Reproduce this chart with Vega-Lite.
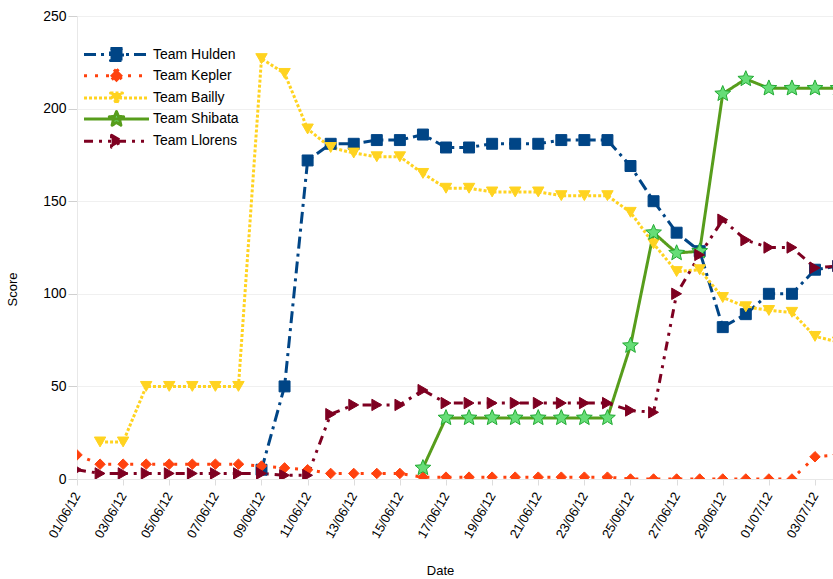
{
  "$schema": "https://vega.github.io/schema/vega-lite/v6.json",
  "width": 756,
  "height": 463,
  "autosize": "none",
  "padding": {"left": 77, "top": 16, "right": 0, "bottom": 100},
  "background": "white",
  "config": {"font": "Liberation Sans", "view": {"stroke": null}},
  "data": {"values": [
    {"team":"Team Hulden","date":"2012-06-09","score":5},
    {"team":"Team Hulden","date":"2012-06-10","score":50},
    {"team":"Team Hulden","date":"2012-06-11","score":172},
    {"team":"Team Hulden","date":"2012-06-12","score":181},
    {"team":"Team Hulden","date":"2012-06-13","score":181},
    {"team":"Team Hulden","date":"2012-06-14","score":183},
    {"team":"Team Hulden","date":"2012-06-15","score":183},
    {"team":"Team Hulden","date":"2012-06-16","score":186},
    {"team":"Team Hulden","date":"2012-06-17","score":179},
    {"team":"Team Hulden","date":"2012-06-18","score":179},
    {"team":"Team Hulden","date":"2012-06-19","score":181},
    {"team":"Team Hulden","date":"2012-06-20","score":181},
    {"team":"Team Hulden","date":"2012-06-21","score":181},
    {"team":"Team Hulden","date":"2012-06-22","score":183},
    {"team":"Team Hulden","date":"2012-06-23","score":183},
    {"team":"Team Hulden","date":"2012-06-24","score":183},
    {"team":"Team Hulden","date":"2012-06-25","score":169},
    {"team":"Team Hulden","date":"2012-06-26","score":150},
    {"team":"Team Hulden","date":"2012-06-27","score":133},
    {"team":"Team Hulden","date":"2012-06-28","score":123},
    {"team":"Team Hulden","date":"2012-06-29","score":82},
    {"team":"Team Hulden","date":"2012-06-30","score":89},
    {"team":"Team Hulden","date":"2012-07-01","score":100},
    {"team":"Team Hulden","date":"2012-07-02","score":100},
    {"team":"Team Hulden","date":"2012-07-03","score":113},
    {"team":"Team Hulden","date":"2012-07-04","score":115},
    {"team":"Team Kepler","date":"2012-06-01","score":13},
    {"team":"Team Kepler","date":"2012-06-02","score":8},
    {"team":"Team Kepler","date":"2012-06-03","score":8},
    {"team":"Team Kepler","date":"2012-06-04","score":8},
    {"team":"Team Kepler","date":"2012-06-05","score":8},
    {"team":"Team Kepler","date":"2012-06-06","score":8},
    {"team":"Team Kepler","date":"2012-06-07","score":8},
    {"team":"Team Kepler","date":"2012-06-08","score":8},
    {"team":"Team Kepler","date":"2012-06-09","score":7},
    {"team":"Team Kepler","date":"2012-06-10","score":6},
    {"team":"Team Kepler","date":"2012-06-11","score":5},
    {"team":"Team Kepler","date":"2012-06-12","score":3},
    {"team":"Team Kepler","date":"2012-06-13","score":3},
    {"team":"Team Kepler","date":"2012-06-14","score":3},
    {"team":"Team Kepler","date":"2012-06-15","score":3},
    {"team":"Team Kepler","date":"2012-06-16","score":1},
    {"team":"Team Kepler","date":"2012-06-17","score":1},
    {"team":"Team Kepler","date":"2012-06-18","score":1},
    {"team":"Team Kepler","date":"2012-06-19","score":1},
    {"team":"Team Kepler","date":"2012-06-20","score":1},
    {"team":"Team Kepler","date":"2012-06-21","score":1},
    {"team":"Team Kepler","date":"2012-06-22","score":1},
    {"team":"Team Kepler","date":"2012-06-23","score":1},
    {"team":"Team Kepler","date":"2012-06-24","score":1},
    {"team":"Team Kepler","date":"2012-06-25","score":0},
    {"team":"Team Kepler","date":"2012-06-26","score":0},
    {"team":"Team Kepler","date":"2012-06-27","score":0},
    {"team":"Team Kepler","date":"2012-06-28","score":0},
    {"team":"Team Kepler","date":"2012-06-29","score":0},
    {"team":"Team Kepler","date":"2012-06-30","score":0},
    {"team":"Team Kepler","date":"2012-07-01","score":0},
    {"team":"Team Kepler","date":"2012-07-02","score":0},
    {"team":"Team Kepler","date":"2012-07-03","score":12},
    {"team":"Team Kepler","date":"2012-07-04","score":13},
    {"team":"Team Bailly","date":"2012-06-02","score":20},
    {"team":"Team Bailly","date":"2012-06-03","score":20},
    {"team":"Team Bailly","date":"2012-06-04","score":50},
    {"team":"Team Bailly","date":"2012-06-05","score":50},
    {"team":"Team Bailly","date":"2012-06-06","score":50},
    {"team":"Team Bailly","date":"2012-06-07","score":50},
    {"team":"Team Bailly","date":"2012-06-08","score":50},
    {"team":"Team Bailly","date":"2012-06-09","score":227},
    {"team":"Team Bailly","date":"2012-06-10","score":219},
    {"team":"Team Bailly","date":"2012-06-11","score":189},
    {"team":"Team Bailly","date":"2012-06-12","score":179},
    {"team":"Team Bailly","date":"2012-06-13","score":176},
    {"team":"Team Bailly","date":"2012-06-14","score":174},
    {"team":"Team Bailly","date":"2012-06-15","score":174},
    {"team":"Team Bailly","date":"2012-06-16","score":165},
    {"team":"Team Bailly","date":"2012-06-17","score":157},
    {"team":"Team Bailly","date":"2012-06-18","score":157},
    {"team":"Team Bailly","date":"2012-06-19","score":155},
    {"team":"Team Bailly","date":"2012-06-20","score":155},
    {"team":"Team Bailly","date":"2012-06-21","score":155},
    {"team":"Team Bailly","date":"2012-06-22","score":153},
    {"team":"Team Bailly","date":"2012-06-23","score":153},
    {"team":"Team Bailly","date":"2012-06-24","score":153},
    {"team":"Team Bailly","date":"2012-06-25","score":144},
    {"team":"Team Bailly","date":"2012-06-26","score":127},
    {"team":"Team Bailly","date":"2012-06-27","score":112},
    {"team":"Team Bailly","date":"2012-06-28","score":113},
    {"team":"Team Bailly","date":"2012-06-29","score":98},
    {"team":"Team Bailly","date":"2012-06-30","score":93},
    {"team":"Team Bailly","date":"2012-07-01","score":91},
    {"team":"Team Bailly","date":"2012-07-02","score":90},
    {"team":"Team Bailly","date":"2012-07-03","score":77},
    {"team":"Team Bailly","date":"2012-07-04","score":74},
    {"team":"Team Shibata","date":"2012-06-16","score":6},
    {"team":"Team Shibata","date":"2012-06-17","score":33},
    {"team":"Team Shibata","date":"2012-06-18","score":33},
    {"team":"Team Shibata","date":"2012-06-19","score":33},
    {"team":"Team Shibata","date":"2012-06-20","score":33},
    {"team":"Team Shibata","date":"2012-06-21","score":33},
    {"team":"Team Shibata","date":"2012-06-22","score":33},
    {"team":"Team Shibata","date":"2012-06-23","score":33},
    {"team":"Team Shibata","date":"2012-06-24","score":33},
    {"team":"Team Shibata","date":"2012-06-25","score":72},
    {"team":"Team Shibata","date":"2012-06-26","score":133},
    {"team":"Team Shibata","date":"2012-06-27","score":122},
    {"team":"Team Shibata","date":"2012-06-28","score":123},
    {"team":"Team Shibata","date":"2012-06-29","score":208},
    {"team":"Team Shibata","date":"2012-06-30","score":216},
    {"team":"Team Shibata","date":"2012-07-01","score":211},
    {"team":"Team Shibata","date":"2012-07-02","score":211},
    {"team":"Team Shibata","date":"2012-07-03","score":211},
    {"team":"Team Shibata","date":"2012-07-04","score":211},
    {"team":"Team Llorens","date":"2012-06-01","score":5},
    {"team":"Team Llorens","date":"2012-06-02","score":3},
    {"team":"Team Llorens","date":"2012-06-03","score":3},
    {"team":"Team Llorens","date":"2012-06-04","score":3},
    {"team":"Team Llorens","date":"2012-06-05","score":3},
    {"team":"Team Llorens","date":"2012-06-06","score":3},
    {"team":"Team Llorens","date":"2012-06-07","score":3},
    {"team":"Team Llorens","date":"2012-06-08","score":3},
    {"team":"Team Llorens","date":"2012-06-09","score":3},
    {"team":"Team Llorens","date":"2012-06-10","score":2},
    {"team":"Team Llorens","date":"2012-06-11","score":2},
    {"team":"Team Llorens","date":"2012-06-12","score":35},
    {"team":"Team Llorens","date":"2012-06-13","score":40},
    {"team":"Team Llorens","date":"2012-06-14","score":40},
    {"team":"Team Llorens","date":"2012-06-15","score":40},
    {"team":"Team Llorens","date":"2012-06-16","score":48},
    {"team":"Team Llorens","date":"2012-06-17","score":41},
    {"team":"Team Llorens","date":"2012-06-18","score":41},
    {"team":"Team Llorens","date":"2012-06-19","score":41},
    {"team":"Team Llorens","date":"2012-06-20","score":41},
    {"team":"Team Llorens","date":"2012-06-21","score":41},
    {"team":"Team Llorens","date":"2012-06-22","score":41},
    {"team":"Team Llorens","date":"2012-06-23","score":41},
    {"team":"Team Llorens","date":"2012-06-24","score":41},
    {"team":"Team Llorens","date":"2012-06-25","score":37},
    {"team":"Team Llorens","date":"2012-06-26","score":36},
    {"team":"Team Llorens","date":"2012-06-27","score":100},
    {"team":"Team Llorens","date":"2012-06-28","score":121},
    {"team":"Team Llorens","date":"2012-06-29","score":140},
    {"team":"Team Llorens","date":"2012-06-30","score":129},
    {"team":"Team Llorens","date":"2012-07-01","score":125},
    {"team":"Team Llorens","date":"2012-07-02","score":125},
    {"team":"Team Llorens","date":"2012-07-03","score":114},
    {"team":"Team Llorens","date":"2012-07-04","score":115}
  ]},
  "encoding": {
    "x": {
      "field": "date", "type": "temporal",
      "scale": {"type": "utc", "domain": [{"year": 2012, "month": 6, "date": 1, "utc": true}, {"year": 2012, "month": 7, "date": 3, "hours": 18, "minutes": 44, "utc": true}]},
      "axis": {
        "values": [
          {"year": 2012, "month": 6, "date": 1, "utc": true},
          {"year": 2012, "month": 6, "date": 3, "utc": true},
          {"year": 2012, "month": 6, "date": 5, "utc": true},
          {"year": 2012, "month": 6, "date": 7, "utc": true},
          {"year": 2012, "month": 6, "date": 9, "utc": true},
          {"year": 2012, "month": 6, "date": 11, "utc": true},
          {"year": 2012, "month": 6, "date": 13, "utc": true},
          {"year": 2012, "month": 6, "date": 15, "utc": true},
          {"year": 2012, "month": 6, "date": 17, "utc": true},
          {"year": 2012, "month": 6, "date": 19, "utc": true},
          {"year": 2012, "month": 6, "date": 21, "utc": true},
          {"year": 2012, "month": 6, "date": 23, "utc": true},
          {"year": 2012, "month": 6, "date": 25, "utc": true},
          {"year": 2012, "month": 6, "date": 27, "utc": true},
          {"year": 2012, "month": 6, "date": 29, "utc": true},
          {"year": 2012, "month": 7, "date": 1, "utc": true},
          {"year": 2012, "month": 7, "date": 3, "utc": true}
        ],
        "format": "%d/%m/%y",
        "labelAngle": -60, "labelAlign": "right", "labelBaseline": "middle",
        "labelFontSize": 13, "labelColor": "#000000", "labelPadding": 8,
        "labelOverlap": false, "labelFlush": false,
        "tickSize": 6, "tickColor": "#dddddd", "domainColor": "#e8e8e8", "grid": false,
        "title": "Date", "titleFontSize": 13, "titleFontWeight": "normal", "titleColor": "#000000",
        "titleX": 363, "titleY": 91, "titleAlign": "center", "titleBaseline": "middle"
      }
    },
    "y": {
      "field": "score", "type": "quantitative",
      "scale": {"domain": [0, 250], "nice": false},
      "axis": {
        "values": [0, 50, 100, 150, 200, 250],
        "labelFontSize": 14, "labelColor": "#000000", "labelPadding": 2,
        "tickSize": 9, "tickColor": "#d0d0d0", "domainColor": "#e8e8e8",
        "grid": true, "gridColor": "#f0f0f0",
        "title": "Score", "titleFontSize": 13, "titleFontWeight": "normal", "titleColor": "#000000",
        "titleX": -65, "titleY": 273, "titleAngle": -90, "titleAlign": "center", "titleBaseline": "middle"
      }
    }
  },
  "layer": [
    {
      "mark": {"type": "line", "strokeWidth": 3, "clip": true},
      "encoding": {
        "color": {
          "field": "team", "type": "nominal",
          "scale": {"domain": ["Team Hulden", "Team Kepler", "Team Bailly", "Team Shibata", "Team Llorens"], "range": ["#004586", "#ff420e", "#ffd320", "#579d1c", "#7e0021"]},
          "legend": {
            "title": null, "orient": "none", "legendX": 30, "legendY": 29, "padding": 0,
            "symbolSize": 256, "symbolStrokeWidth": 3, "labelFontSize": 14, "labelColor": "#000000",
            "labelOffset": 27, "rowPadding": 4.2,
            "encode": {
              "symbols": {
                "update": {
                  "shape": {"signal": "datum.value === 'Team Hulden' ? 'M-4.06,0L4.06,0M-0.75,-0.75L0.75,-0.75L0.75,0.75L-0.75,0.75Z' : datum.value === 'Team Kepler' ? 'M-4.06,0L4.06,0M0,-0.81L0.81,0L0,0.81L-0.81,0Z' : datum.value === 'Team Bailly' ? 'M-4.06,0L4.06,0M-0.75,-0.62L0.75,-0.62L0,0.68Z' : datum.value === 'Team Shibata' ? 'M-4.06,0L4.06,0M0,-0.94L0.249,-0.342L0.894,-0.29L0.402,0.131L0.553,0.76L0,0.423L-0.553,0.76L-0.402,0.131L-0.894,-0.29L-0.249,-0.342Z' : 'M-4.06,0L4.06,0M-0.62,-0.75L0.68,0L-0.62,0.75Z'"},
                  "fill": {"signal": "datum.value === 'Team Shibata' ? '#66dd77' : scale('color', datum.value)"},
                  "strokeJoin": {"value": "round"},
                  "fillOpacity": {"value": 1},
                  "opacity": {"value": 1}
                }
              }
            }
          }
        },
        "strokeDash": {
          "field": "team", "type": "nominal",
          "scale": {"domain": ["Team Hulden", "Team Kepler", "Team Bailly", "Team Shibata", "Team Llorens"], "range": [[12, 5, 3, 5], [3, 8], [3, 2], [1, 0], [9, 6, 3, 6, 3, 6]]}
        }
      }
    },
    {
      "transform": [{"filter": "datum.team === 'Team Hulden'"}],
      "mark": {"type": "point", "shape": "square", "filled": true, "fill": "#004586", "stroke": "#004586", "strokeWidth": 1, "size": 120, "opacity": 1, "clip": true}
    },
    {
      "transform": [{"filter": "datum.team === 'Team Kepler'"}],
      "mark": {"type": "point", "shape": "diamond", "filled": true, "fill": "#ff420e", "stroke": "#ff420e", "strokeWidth": 1, "size": 110, "opacity": 1, "clip": true}
    },
    {
      "transform": [{"filter": "datum.team === 'Team Bailly'"}],
      "mark": {"type": "point", "shape": "triangle-down", "filled": true, "fill": "#ffd320", "stroke": "#ffd320", "strokeWidth": 1, "size": 130, "opacity": 1, "clip": true}
    },
    {
      "transform": [{"filter": "datum.team === 'Team Shibata'"}],
      "mark": {"type": "point", "shape": "M0,-1.4L0.371,-0.51L1.331,-0.433L0.599,0.195L0.823,1.133L0,0.63L-0.823,1.133L-0.599,0.195L-1.331,-0.433L-0.371,-0.51Z", "filled": true, "fill": "#66dd77", "stroke": "#22aa33", "strokeWidth": 1, "size": 140, "opacity": 1, "clip": true}
    },
    {
      "transform": [{"filter": "datum.team === 'Team Llorens'"}],
      "mark": {"type": "point", "shape": "triangle-right", "filled": true, "fill": "#7e0021", "stroke": "#7e0021", "strokeWidth": 1, "size": 130, "opacity": 1, "clip": true}
    }
  ]
}
